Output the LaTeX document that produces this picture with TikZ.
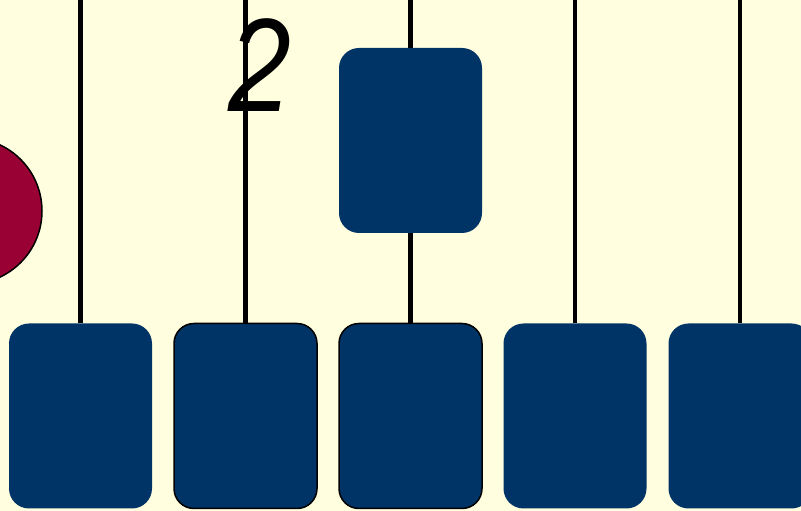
\documentclass[tikz,border=0pt]{standalone}
\usepackage{graphicx}
\usepackage{fontspec}
\setmainfont{Liberation Sans}
\definecolor{bgy}{HTML}{FFFFE0}
\definecolor{boxblue}{HTML}{003366}
\definecolor{dotred}{HTML}{990033}
\begin{document}
\begin{tikzpicture}[x=1pt,y=1pt,
  blk/.style={rectangle, rounded corners=20pt, fill=boxblue, minimum width=143pt, minimum height=185pt, inner sep=0pt},
  blkb/.style={blk, draw=black, line width=1.5pt},
  wire/.style={line width=4.6pt, black}]
\useasboundingbox (0,0) rectangle (801,511);
\clip (0,0) rectangle (801,511);
\fill[bgy] (0,0) rectangle (801,511);
% bottom boxes
\node[blk]  (b1) at (80.5,95) {};
\node[blkb] (b2) at (245.5,95) {};
\node[blkb] (b3) at (410.5,95) {};
\node[blk]  (b4) at (575,95) {};
\node[blk]  (b5) at (740,95) {};
\node[blk]  (t)  at (410.5,370.5) {};
% top ends
\coordinate (c1) at (80.5,511);
\coordinate (c2) at (245.5,511);
\coordinate (c3) at (410.5,511);
\coordinate (c4) at (575,511);
\coordinate (c5) at (740,511);
\draw[wire] (c1) -- (b1.north);
\draw[wire] (c2) -- (b2.north);
\draw[wire] (c3) -- (t.north);
\draw[wire] (t.south) -- (b3.north);
\draw[wire] (c4) -- (b4.north);
\draw[wire] (c5) -- (b5.north);
% red circle
\node[circle, fill=dotred, draw=black, line width=1.5pt, minimum size=146pt, inner sep=0pt] (r) at (-31,300) {};
% label
\node[inner sep=0pt] (lab) at (260,446) {\scalebox{0.85}[1]{\fontsize{133}{133}\selectfont\itshape 2}};
\end{tikzpicture}
\end{document}
